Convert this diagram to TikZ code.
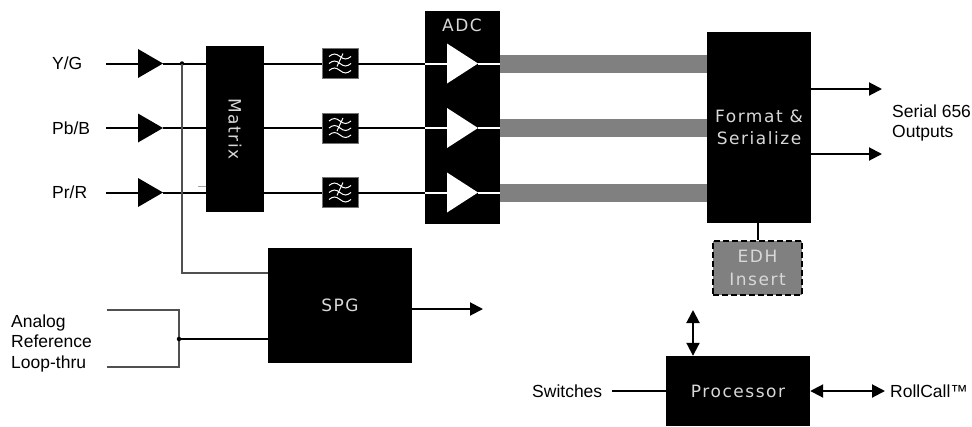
\documentclass[tikz,border=0pt]{standalone}
\usepackage{fontspec}
\setmainfont{Liberation Sans}
\newfontfamily\boxfont[LetterSpace=9]{DejaVu Sans}
\usetikzlibrary{arrows.meta}
\definecolor{barg}{HTML}{808080}
\definecolor{boxtxt}{HTML}{D8D8D8}
\definecolor{tapg}{HTML}{505050}
\begin{document}
\begin{tikzpicture}[x=1pt,y=-1pt,
  blk/.style={draw=none,fill=black,text=boxtxt,font=\boxfont\fontsize{17}{22}\selectfont,inner sep=0pt,align=center},
  lbl/.style={font=\fontsize{17.5}{20.5}\selectfont,inner sep=0pt,align=left,anchor=west},
  sig/.style={line width=2pt,black},
  tap/.style={line width=1.4pt,tapg},
  wsig/.style={line width=2pt,white},
  bar/.style={line width=18pt,barg},
  filt/.style={fill=black,draw=black!55,line width=0.8pt,minimum width=36pt,minimum height=30pt,inner sep=0pt},
  arr/.style={-{Triangle[length=13pt,width=13pt]}},
  darr/.style={{Triangle[length=13pt,width=13pt]}-{Triangle[length=13pt,width=13pt]}},
  dot/.style={circle,fill=black,inner sep=0pt,minimum size=5pt}
]
\useasboundingbox (0,0) rectangle (972,426);

% labels
\node[lbl] (lY) at (52,63.5) {Y/G};
\node[lbl] (lPb) at (52,128) {Pb/B};
\node[lbl] (lPr) at (52,192.5) {Pr/R};
\node[lbl] (lref) at (11,343) {Analog\\Reference\\Loop-thru};
\node[lbl] (lser) at (892,123) {Serial 656\\Outputs};
\node[lbl] (lsw) at (532,391) {Switches};
\node[lbl] (lrc) at (890,391) {RollCall™};

% blocks
\node[blk,minimum width=58pt,minimum height=166pt] (mtx) at (235,129) {};
\node[rotate=-90,text=boxtxt,font=\boxfont\fontsize{17}{22}\selectfont,inner sep=0pt] (mtxt) at (mtx.center) {Matrix};
\node[blk,minimum width=75pt,minimum height=213pt] (adc) at (462.5,117.5) {};
\node[text=boxtxt,font=\boxfont\fontsize{17}{22}\selectfont,inner sep=0pt] (adct) at (462,25) {ADC};
\node[blk,minimum width=104pt,minimum height=191pt] (fmt) at (759,127.5) {Format \&\\Serialize};
\node[blk,minimum width=144pt,minimum height=115pt] (spg) at (340,305.5) {SPG};
\node[blk,minimum width=144pt,minimum height=70pt] (proc) at (738,391) {Processor};
\node[fill=barg,draw=black,dashed,dash pattern=on 6pt off 3pt,line width=2.5pt,text=boxtxt,
      font=\boxfont\fontsize{17}{23}\selectfont,inner sep=0pt,align=center,
      minimum width=89pt,minimum height=54pt] (edh) at (757.5,268) {EDH\\Insert};

% input amplifiers, filters, ADC stages
\foreach \r/\yy in {1/63.5,2/128,3/192.5}{
  \coordinate (ain\r) at (138,\yy);
  \coordinate (aout\r) at (163,\yy);
  \fill[black] (138,\yy-14.5) -- (163,\yy) -- (138,\yy+14.5) -- cycle;
  \node[filt] (f\r) at (340,\yy) {};
  \begin{scope}[shift={(f\r.center)},white,line width=1pt]
    \foreach \dy in {-7,0,7}{
      \draw (-11,\dy) sin (-5.5,\dy-2.5) cos (0,\dy) sin (5.5,\dy+2.5) cos (11,\dy);
    }
    \draw (3,-10) -- (-3,3);
  \end{scope}
  \coordinate (din\r) at (447,\yy);
  \coordinate (dout\r) at (478,\yy);
  \fill[white] (447,\yy-20) -- (478,\yy) -- (447,\yy+20) -- cycle;
  \coordinate (lin\r) at (106,\yy);
  \draw[sig] (lin\r) -- (ain\r);
  \draw[sig] (aout\r) -- (mtx.west |- aout\r);
  \draw[sig] (mtx.east |- f\r) -- (f\r.west);
  \draw[sig] (f\r.east) -- (adc.west |- f\r);
  \draw[wsig] (adc.west |- din\r) -- (din\r);
  \draw[wsig] (dout\r) -- (adc.east |- dout\r);
  \draw[bar] (adc.east |- dout\r) -- (fmt.west |- dout\r);
}

% tap to SPG
\node[dot,minimum size=4.5pt] (tapd) at (182,63.5) {};
\coordinate (tapc) at (182,273);
\draw[tap] (tapd.center) -- (tapc) -- (spg.west |- tapc);
\coordinate (art1) at (198,186);
\draw[line width=0.8pt,black!35] (art1) -- (mtx.west |- art1);

% analog reference loop-thru
\coordinate (rt0) at (107,310);
\coordinate (rt1) at (179,310);
\coordinate (rb1) at (179,367);
\coordinate (rb0) at (107,367);
\draw[tap] (rt0) -- (rt1) -- (rb1) -- (rb0);
\node[dot,minimum size=4.5pt] (rdot) at (179,339) {};
\draw[sig] (rdot.center) -- (spg.west |- rdot);

% SPG output
\coordinate (spgo) at (483,309);
\draw[sig,arr] (spg.east |- spgo) -- (spgo);

% serial outputs
\coordinate (o1) at (882,89);
\coordinate (o2) at (882,154);
\draw[sig,arr] (fmt.east |- o1) -- (o1);
\draw[sig,arr] (fmt.east |- o2) -- (o2);

% format to EDH
\draw[sig] (fmt.south -| edh.north) -- (edh.north);

% processor connections
\coordinate (pup) at (693,310);
\draw[sig,darr] (pup) -- (pup |- proc.north);
\draw[line width=1.5pt] (lsw.east) ++(10,0) -- (proc.west |- lsw.east);
\coordinate (rce) at (885,391);
\draw[sig,darr] (proc.east |- rce) -- (rce);
\end{tikzpicture}
\end{document}
